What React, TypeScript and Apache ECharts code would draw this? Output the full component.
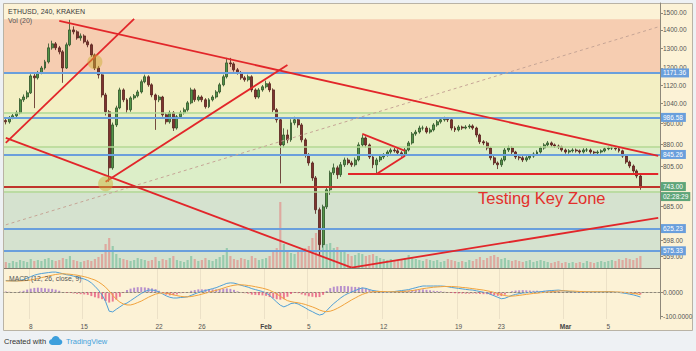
import React, { useEffect, useRef } from "react";
import * as echarts from "echarts";

// ---------- data (8h bars, ETHUSD Kraken) ----------
const opens = [
  970, 965, 981, 989, 1001, 1055, 1067, 1085, 1162, 1153,
  1177, 1200, 1230, 1302, 1323, 1302, 1281, 1200, 1318, 1400,
  1389, 1355, 1366, 1334, 1318, 1265, 1200, 1167, 1076, 1005,
  801, 953, 1021, 1098, 1055, 1013, 1063, 1072, 1089, 1135,
  1158, 1121, 1076, 1055, 1067, 993, 965, 1001, 941, 985,
  1001, 1013, 1042, 1098, 1055, 1067, 1055, 1026, 1055, 1067,
  1089, 1121, 1158, 1225, 1220, 1191, 1177, 1153, 1144, 1158,
  1098, 1067, 1098, 1112, 1126, 1098, 1013, 973, 879, 915,
  897, 961, 973, 953, 897, 844, 817, 769, 676, 587,
  684, 733, 785, 801, 779, 811, 827, 817, 811, 827,
  879, 904, 879, 837, 811, 827, 837, 844, 854, 861,
  858, 851, 844, 861, 886, 919, 926, 941, 941, 926,
  934, 953, 965, 973, 977, 973, 941, 934, 945, 941,
  945, 949, 941, 915, 890, 886, 868, 834, 817, 811,
  827, 861, 868, 854, 837, 834, 827, 834, 840, 847,
  854, 868, 879, 886, 879, 875, 872, 861, 854, 858,
  861, 858, 854, 861, 861, 854, 851, 854, 858, 865,
  868, 868, 865, 858, 840, 820, 807, 791, 775,
];
const closes = [
  965, 981, 989, 1001, 1055, 1067, 1085, 1162, 1153, 1177,
  1200, 1230, 1302, 1323, 1302, 1281, 1200, 1318, 1400, 1389,
  1355, 1366, 1334, 1318, 1265, 1200, 1167, 1076, 1005, 801,
  953, 1021, 1098, 1055, 1013, 1063, 1072, 1089, 1135, 1158,
  1121, 1076, 1055, 1067, 993, 965, 1001, 941, 985, 1001,
  1013, 1042, 1098, 1055, 1067, 1055, 1026, 1055, 1067, 1089,
  1121, 1158, 1225, 1220, 1191, 1177, 1153, 1144, 1158, 1098,
  1067, 1098, 1112, 1126, 1098, 1013, 973, 879, 915, 897,
  961, 973, 953, 897, 844, 817, 769, 676, 587, 684,
  733, 785, 801, 779, 811, 827, 817, 811, 827, 879,
  904, 879, 837, 811, 827, 837, 844, 854, 861, 858,
  851, 844, 861, 886, 919, 926, 941, 941, 926, 934,
  953, 965, 973, 977, 973, 941, 934, 945, 941, 945,
  949, 941, 915, 890, 886, 868, 834, 817, 811, 827,
  861, 868, 854, 837, 834, 827, 834, 840, 847, 854,
  868, 879, 886, 879, 875, 872, 861, 854, 858, 861,
  858, 854, 861, 861, 854, 851, 854, 858, 865, 868,
  868, 865, 858, 840, 820, 807, 791, 775, 743,
];
const lows = [
  955, 958, 975, 982, 995, 1046, 1058, 1080, 1020, 1145,
  1170, 1192, 1222, 1292, 1290, 1268, 1130, 1195, 1310, 1375,
  1345, 1340, 1325, 1305, 1255, 1190, 1150, 1065, 990, 757,
  795, 945, 1015, 1045, 1000, 1005, 1055, 1065, 1082, 1128,
  1112, 1066, 934, 1045, 985, 955, 958, 930, 935, 978,
  994, 1006, 1036, 1046, 1048, 1045, 1018, 1020, 1048, 1060,
  1082, 1114, 1150, 1205, 1182, 1168, 1144, 1135, 1136, 1088,
  1058, 1060, 1090, 1105, 1088, 1003, 962, 752, 870, 885,
  890, 952, 942, 888, 835, 808, 760, 665, 561, 580,
  678, 718, 778, 766, 772, 804, 810, 804, 805, 822,
  872, 870, 830, 800, 782, 820, 830, 838, 848, 852,
  845, 838, 840, 856, 880, 912, 920, 932, 920, 920,
  928, 946, 958, 966, 964, 932, 926, 928, 934, 936,
  938, 934, 906, 882, 878, 860, 826, 810, 797, 804,
  822, 854, 846, 830, 826, 820, 821, 828, 834, 842,
  849, 862, 873, 872, 868, 865, 855, 848, 848, 852,
  852, 848, 849, 854, 848, 845, 846, 849, 853, 860,
  861, 859, 852, 834, 814, 800, 785, 768, 733,
];
const highs = [
  978, 988, 996, 1010, 1062, 1078, 1095, 1170, 1172, 1186,
  1210, 1240, 1325, 1340, 1333, 1312, 1290, 1330, 1458, 1420,
  1398, 1380, 1375, 1345, 1325, 1272, 1210, 1175, 1085, 1012,
  962, 1030, 1108, 1105, 1062, 1070, 1080, 1098, 1145, 1168,
  1165, 1128, 1082, 1075, 1072, 1000, 1010, 1008, 992, 1010,
  1022, 1050, 1108, 1105, 1075, 1074, 1062, 1062, 1075, 1097,
  1130, 1168, 1250, 1250, 1228, 1200, 1185, 1162, 1168, 1165,
  1105, 1106, 1120, 1140, 1135, 1105, 1020, 980, 940, 935,
  975, 985, 980, 960, 904, 850, 822, 775, 682, 690,
  740, 792, 815, 808, 820, 835, 834, 824, 835, 888,
  915, 910, 884, 842, 834, 845, 850, 860, 867, 868,
  864, 857, 868, 893, 926, 934, 950, 950, 948, 942,
  960, 972, 982, 985, 984, 978, 948, 952, 950, 952,
  956, 955, 946, 920, 896, 892, 872, 840, 822, 834,
  868, 876, 874, 858, 843, 840, 840, 846, 853, 860,
  874, 885, 893, 891, 884, 880, 876, 866, 864, 867,
  866, 863, 867, 868, 866, 858, 860, 863, 870, 874,
  874, 873, 869, 862, 845, 825, 812, 796, 780,
];
const volumes = [
  1200, 1000, 1400, 1200, 1600, 1400, 1200, 1800, 1400, 1600,
  1400, 1800, 2000, 1600, 1400, 1600, 2000, 1800, 2400, 1600,
  1400, 1200, 1400, 1600, 1400, 1800, 2200, 2800, 4800, 6000,
  4400, 2800, 2000, 1800, 1600, 1400, 1600, 2000, 1800, 1600,
  1400, 1600, 2200, 1400, 1800, 1600, 2000, 2400, 1600, 1400,
  1200, 1600, 2400, 1800, 1400, 1600, 2000, 1600, 1400, 1800,
  2200, 2600, 4000, 2400, 1800, 1600, 2000, 1800, 1600, 2400,
  2000, 1600, 1800, 2000, 2400, 3200, 4000, 13200, 4800, 3600,
  3000, 2800, 3200, 3600, 4000, 4400, 6000, 7000, 6000, 5600,
  4800, 5000, 4000, 4200, 3600, 3200, 2800, 2400, 2600, 3000,
  2800, 2400, 2600, 2800, 2400, 2000, 1800, 1600, 1800, 1600,
  1400, 1600, 2000, 2600, 2200, 1800, 1600, 1400, 1800, 1600,
  1400, 1600, 1200, 1400, 1800, 1600, 1400, 1200, 1400, 1200,
  1600, 1400, 1800, 2200, 1600, 2000, 2400, 2600, 2200, 1800,
  2000, 1600, 1400, 1600, 1400, 1200, 1400, 1600, 1200, 1400,
  1600, 1400, 1200, 1000, 1200, 1400, 1000, 1200, 1000, 1200,
  1000, 1200, 1000, 1400, 1200, 1000, 1200, 1400, 1200, 1400,
  1600, 1400, 1800, 1600, 2000, 1800, 1600, 2000, 2400,
];
const macdLine = [
  48, 47, 46, 46, 48, 52, 58, 64, 70, 74,
  77, 79, 81, 83, 83, 80, 76, 72, 70, 66,
  62, 58, 54, 48, 38, 24, 8, -12, -40, -80,
  -83, -72, -62, -52, -46, -36, -26, -16, -6, 2,
  8, 8, 6, 0, -8, -16, -22, -25, -25, -23,
  -22, -20, -14, -8, -2, 2, 6, 10, 14, 18,
  24, 30, 36, 38, 37, 33, 28, 24, 20, 14,
  10, 6, 2, -4, -14, -28, -42, -55, -62, -56,
  -48, -46, -50, -58, -66, -75, -82, -90, -96, -92,
  -78, -62, -48, -36, -24, -14, -6, 0, 6, 12,
  17, 15, 10, 6, 4, 2, 0, -1, 0, 2,
  4, 6, 8, 10, 14, 18, 22, 25, 25, 25,
  25, 25, 25, 24, 22, 19, 17, 15, 13, 11,
  9, 8, 5, 2, -1, -4, -10, -16, -22, -28,
  -26, -20, -14, -10, -7, -4, -3, -2, -1, 0,
  1, 3, 5, 6, 7, 8, 6, 4, 2, 1,
  0, 0, 0, 0, 0, 0, 0, 0, 1, 1,
  0, -1, -2, -4, -6, -9, -12, -16, -21,
];
const signalLine = [
  46, 46, 46, 46, 46, 47, 48, 50, 53, 56,
  60, 63, 67, 70, 73, 75, 76, 75, 74, 72,
  70, 67, 64, 60, 55, 50, 42, 32, 20, 4,
  -14, -30, -42, -50, -54, -54, -50, -44, -38, -30,
  -22, -15, -9, -5, -4, -5, -8, -12, -15, -18,
  -20, -20, -19, -16, -13, -9, -5, -1, 3, 7,
  11, 16, 21, 25, 28, 30, 30, 29, 27, 25,
  22, 19, 16, 12, 7, 0, -8, -18, -28, -36,
  -40, -43, -45, -48, -52, -57, -62, -68, -75, -80,
  -82, -80, -75, -68, -60, -51, -42, -33, -25, -17,
  -10, -5, -1, 1, 2, 2, 2, 1, 1, 1,
  1, 2, 3, 4, 6, 8, 11, 14, 16, 18,
  20, 21, 22, 23, 23, 23, 22, 21, 19, 18,
  16, 14, 12, 10, 8, 5, 2, -2, -6, -11,
  -15, -17, -17, -16, -14, -12, -10, -8, -6, -5,
  -3, -2, 0, 1, 3, 4, 5, 5, 4, 4,
  3, 2, 2, 1, 1, 1, 1, 1, 1, 1,
  1, 0, 0, -1, -2, -4, -6, -8, -11,
];
const macdHist = [
  2, 1, 0, 0, 2, 5, 10, 14, 17, 18,
  17, 16, 14, 13, 10, 5, 0, -3, -4, -6,
  -8, -9, -10, -12, -17, -22, -26, -30, -38, -44,
  -40, -32, -20, -2, 8, 14, 18, 20, 20, 19,
  17, 15, 12, 5, -4, -11, -14, -13, -10, -5,
  -2, 0, 5, 8, 11, 11, 11, 11, 11, 11,
  13, 14, 15, 13, 9, 3, -2, -5, -7, -11,
  -12, -13, -14, -16, -21, -26, -30, -32, -30, -20,
  -8, -3, -5, -10, -14, -18, -20, -22, -21, -12,
  4, 16, 22, 24, 25, 25, 24, 22, 21, 20,
  18, 15, 11, 5, 2, 0, -2, -2, -1, 1,
  3, 4, 5, 6, 8, 10, 11, 11, 9, 7,
  5, 4, 3, 1, -1, -4, -5, -6, -6, -7,
  -7, -6, -7, -8, -9, -9, -12, -14, -16, -17,
  -11, -3, 3, 6, 7, 8, 7, 6, 5, 5,
  4, 5, 5, 5, 4, 4, 1, -1, -2, -3,
  -3, -2, -2, -1, -1, -1, -1, -1, 0, 0,
  -1, -1, -2, -3, -4, -5, -6, -8, -10,
];

const emptySlotsRight = 5;
const dateTickIndex = [7, 22, 43, 55, 73, 85, 106, 127, 139, 157, 169];
const dateTickLabels = ["8", "15", "22", "26", "Feb", "5", "12", "19", "23", "Mar", "5"];
const priceTicks = [1500, 1400, 1300, 1200, 1120, 1040, 960, 880, 805, 685, 598, 559];
const macdTicks = [0, -100];
const priceMin = 534;
const priceMax = 1561;
const volumeMax = 53000;

const levelPrices = [1171.36, 986.58, 845.26, 625.23, 575.33];
const zoneEdgePrices = [1004, 868, 730];
const zoneBounds = [
  [1461, 1171.36],
  [1171.36, 1004],
  [1004, 868],
  [868, 730],
  [730, 534],
];
const zoneColors = ["#f6cdb1", "#f3efc3", "#e5f0c4", "#dceec8", "#d5e2cf"];
const lastPrice = 743;
const countdown = "02:28:29";
const trendLines = [
  [[15, 1452], [183, 841]],
  [[0, 886], [36, 1464]],
  [[28, 757], [79, 1215]],
  [[0, 904], [97, 535]],
  [[97, 535], [183, 654]],
  [[100, 919], [112, 858]],
  [[104, 781], [112, 841]],
  [[96, 781], [183, 781]],
];
const guideLine = [[0, 636], [183, 1417]];
const circles = [[25, 1230], [28, 751]];

const ln = Math.log;

const logoPath =
  "M3.5 9.5 C1.6 9.5 0 8.2 0 6.4 C0 4.8 1.2 3.6 2.8 3.4 C3.3 1.4 5 0 7.1 0 C9.2 0 10.9 1.4 11.3 3.3 C12.9 3.5 14 4.8 14 6.4 C14 8.1 12.6 9.5 10.9 9.5 Z";
let logoRegistered = false;

export default function App() {
  const ref = useRef<HTMLDivElement>(null);
  useEffect(() => {
    if (!ref.current) return;
    if (!logoRegistered) {
      echarts.graphic.registerShape("tvlogo", echarts.graphic.extendPath(logoPath, {}));
      logoRegistered = true;
    }
    const chart = echarts.init(ref.current, null, { renderer: "svg" });
    const n = closes.length;
    const categories = Array.from({ length: n + emptySlotsRight }, (_, i) => String(i));
    const tickLabelAt = new Map<number, string>(dateTickIndex.map((i, k) => [i, dateTickLabels[k]]));
    const showTick = (i: number) => tickLabelAt.has(i);
    const font = "Liberation Sans, Arial, sans-serif";
    const levelColor = "#6a9fdc";
    const red = "#e2262a";

    const candleData = closes.map((c, i) => [ln(opens[i]), ln(c), ln(lows[i]), ln(highs[i])]);
    const volData = volumes.map((v, i) => ({
      value: v,
      itemStyle: { color: closes[i] >= opens[i] ? "rgba(90,180,140,0.5)" : "rgba(232,112,112,0.5)" },
    }));
    const histData = macdHist.map((h) => ({
      value: h,
      itemStyle: { color: h >= 0 ? "rgba(160,110,200,0.75)" : "rgba(230,80,120,0.75)" },
    }));

    const markLines: any[] = [];
    zoneEdgePrices.forEach((p) =>
      markLines.push({ yAxis: ln(p), lineStyle: { color: "#b2d995", width: 1.5, type: "solid" }, label: { show: false } })
    );
    levelPrices.forEach((p) =>
      markLines.push({
        yAxis: ln(p),
        lineStyle: { color: levelColor, width: 2, type: "solid" },
        label: {
          show: true,
          position: "end",
          distance: 1,
          formatter: p.toFixed(2),
          backgroundColor: levelColor,
          color: "#fff",
          fontSize: 6.5,
          fontFamily: font,
          padding: [1, 3, 1, 2],
        },
      })
    );
    markLines.push([
      { coord: [guideLine[0][0], ln(guideLine[0][1])], lineStyle: { color: "#c6a596", width: 1, type: [3, 3] } },
      { coord: [guideLine[1][0], ln(guideLine[1][1])], lineStyle: { color: "#c6a596", width: 1, type: [3, 3] } },
    ]);
    trendLines.forEach(([a, b]) =>
      markLines.push([
        { coord: [a[0], ln(a[1])], lineStyle: { color: red, width: 1.8, type: "solid" } },
        { coord: [b[0], ln(b[1])], lineStyle: { color: red, width: 1.8, type: "solid" } },
      ])
    );
    markLines.push({
      yAxis: ln(lastPrice),
      lineStyle: { color: "#c0352c", width: 2, type: "solid" },
      label: {
        show: true,
        position: "end",
        distance: 1,
        formatter: `{s|}\n{a|${lastPrice.toFixed(2)}}\n{b|${countdown}}`,
        rich: {
          s: { height: 10, lineHeight: 10 },
          a: { backgroundColor: "#5fa579", color: "#fff", fontSize: 6.5, fontFamily: font, padding: [1, 3, 1, 2], lineHeight: 10 },
          b: { backgroundColor: "#5fa579", color: "#fff", fontSize: 6.5, fontFamily: font, padding: [1, 2, 1, 2], lineHeight: 10 },
        },
      },
    });

    const option: any = {
      animation: false,
      backgroundColor: "#eef1f4",
      textStyle: { fontFamily: font },
      grid: [
        { left: 4, top: 3, width: 656, height: 265 },
        { left: 4, top: 268, width: 656, height: 51 },
      ],
      xAxis: [
        {
          type: "category",
          gridIndex: 0,
          data: categories,
          axisLine: { show: false },
          axisTick: { show: false },
          axisLabel: { show: false },
          splitLine: { show: false },
        },
        {
          type: "category",
          gridIndex: 1,
          data: categories,
          axisLine: { show: true, lineStyle: { color: "#8e887a", width: 1 } },
          axisTick: { show: false },
          axisLabel: {
            interval: (i: number) => showTick(i),
            formatter: (v: string) => {
              const t = tickLabelAt.get(Number(v)) || "";
              return t === "Feb" || t === "Mar" ? `{b|${t}}` : t;
            },
            fontSize: 6.5,
            color: "#555",
            margin: 4,
            rich: { b: { fontWeight: "bold", fontSize: 6.5, color: "#444" } },
          },
          splitLine: {
            show: true,
            interval: (i: number) => showTick(i),
            lineStyle: { color: "rgba(120,110,90,0.12)", width: 1 },
          },
        },
      ],
      yAxis: [
        {
          type: "value",
          gridIndex: 0,
          position: "right",
          min: ln(priceMin),
          max: ln(priceMax),
          axisLine: { show: true, lineStyle: { color: "#8e887a" } },
          axisTick: { show: true, length: 3, customValues: priceTicks.map(ln), lineStyle: { color: "#8e887a" } },
          axisLabel: {
            customValues: priceTicks.map(ln),
            formatter: (v: number) => Math.exp(v).toFixed(2),
            fontSize: 6.5,
            color: "#555",
            margin: 3,
          },
          splitLine: { show: false },
        },
        {
          type: "value",
          gridIndex: 1,
          position: "right",
          min: -112.5,
          max: 100,
          axisLine: { show: true, lineStyle: { color: "#8e887a" } },
          axisTick: { show: true, length: 3, customValues: macdTicks, lineStyle: { color: "#8e887a" } },
          axisLabel: {
            customValues: macdTicks,
            formatter: (v: number) => v.toFixed(4),
            fontSize: 6.5,
            color: "#555",
            margin: 3,
          },
          splitLine: { show: false },
        },
        { type: "value", gridIndex: 0, min: 0, max: volumeMax, show: false },
      ],
      series: [
        {
          type: "bar",
          xAxisIndex: 0,
          yAxisIndex: 2,
          data: volData,
          barWidth: "60%",
          z: 2,
          silent: true,
        },
        {
          type: "candlestick",
          xAxisIndex: 0,
          yAxisIndex: 0,
          data: candleData,
          barWidth: "70%",
          z: 3,
          silent: true,
          itemStyle: {
            color: "#539447",
            color0: "#7e332e",
            borderColor: "#2c5227",
            borderColor0: "#55201c",
            borderWidth: 0.8,
          },
          markArea: {
            silent: true,
            z: 1,
            data: zoneBounds.map((b, k) => [
              { yAxis: ln(b[0]), itemStyle: { color: zoneColors[k] } },
              { yAxis: ln(b[1]) },
            ]),
          },
          markLine: {
            silent: true,
            symbol: ["none", "none"],
            z: 5,
            label: { show: false },
            data: markLines,
          },
        },
        {
          type: "scatter",
          xAxisIndex: 0,
          yAxisIndex: 0,
          data: circles.map(([i, p]) => [i, ln(p)]),
          symbolSize: 15,
          z: 6,
          silent: true,
          itemStyle: { color: "rgba(204,176,52,0.6)" },
        },
        {
          type: "bar",
          xAxisIndex: 1,
          yAxisIndex: 1,
          data: histData,
          barWidth: "55%",
          silent: true,
          markLine: {
            silent: true,
            symbol: ["none", "none"],
            label: { show: false },
            data: [{ yAxis: 0, lineStyle: { color: "#c4bba6", type: [2, 2], width: 1 } }],
          },
        },
        {
          type: "line",
          xAxisIndex: 1,
          yAxisIndex: 1,
          data: macdLine,
          showSymbol: false,
          symbol: "none",
          silent: true,
          lineStyle: { color: "#4f9fd6", width: 1 },
        },
        {
          type: "line",
          xAxisIndex: 1,
          yAxisIndex: 1,
          data: signalLine,
          showSymbol: false,
          symbol: "none",
          silent: true,
          lineStyle: { color: "#f0a23c", width: 1 },
        },
      ],
      graphic: [
        {
          type: "rect",
          z: -100,
          silent: true,
          shape: { x: 3.5, y: 3.5, width: 689, height: 327 },
          style: { fill: "#fcf2d6", stroke: "#b9b3a5", lineWidth: 1 },
        },
        {
          type: "line",
          z: 100,
          silent: true,
          shape: { x1: 4, y1: 268.5, x2: 660, y2: 268.5 },
          style: { stroke: "#7f7a6e", lineWidth: 1 },
        },
        {
          type: "text",
          z: 100,
          x: 8,
          y: 11,
          style: { text: "ETHUSD, 240, KRAKEN", fill: "#3b3b3b", fontSize: 7, fontFamily: font, textVerticalAlign: "middle" },
        },
        {
          type: "text",
          z: 100,
          x: 8,
          y: 20.5,
          style: { text: "Vol (20)", fill: "#555", fontSize: 7, fontFamily: font, textVerticalAlign: "middle" },
        },
        {
          type: "text",
          z: 100,
          x: 9,
          y: 278,
          style: { text: "MACD (12, 26, close, 9)", fill: "#555", fontSize: 6.8, fontFamily: font, textVerticalAlign: "middle" },
        },
        {
          type: "text",
          z: 100,
          x: 478,
          y: 197.5,
          style: { text: "Testing Key Zone", fill: "#e3302b", fontSize: 16.5, fontFamily: font, textVerticalAlign: "middle" },
        },
        {
          type: "text",
          z: 100,
          x: 4,
          y: 341,
          style: { text: "Created with", fill: "#333", fontSize: 7.5, fontFamily: font, textVerticalAlign: "middle" },
        },
        {
          type: "tvlogo",
          z: 100,
          x: 49,
          y: 336,
          scaleX: 0.95,
          scaleY: 0.95,
          style: { fill: "#3d9fdc" },
        },
        {
          type: "text",
          z: 100,
          x: 66,
          y: 341,
          style: { text: "TradingView", fill: "#45a2da", fontSize: 7.5, fontFamily: font, textVerticalAlign: "middle" },
        },
      ],
    };
    chart.setOption(option);
    return () => chart.dispose();
  }, []);
  return (
    <div style={{ position: "fixed", left: 0, top: 0, width: 696, height: 351 }}>
      <div ref={ref} style={{ width: 696, height: 351 }} />
    </div>
  );
}
